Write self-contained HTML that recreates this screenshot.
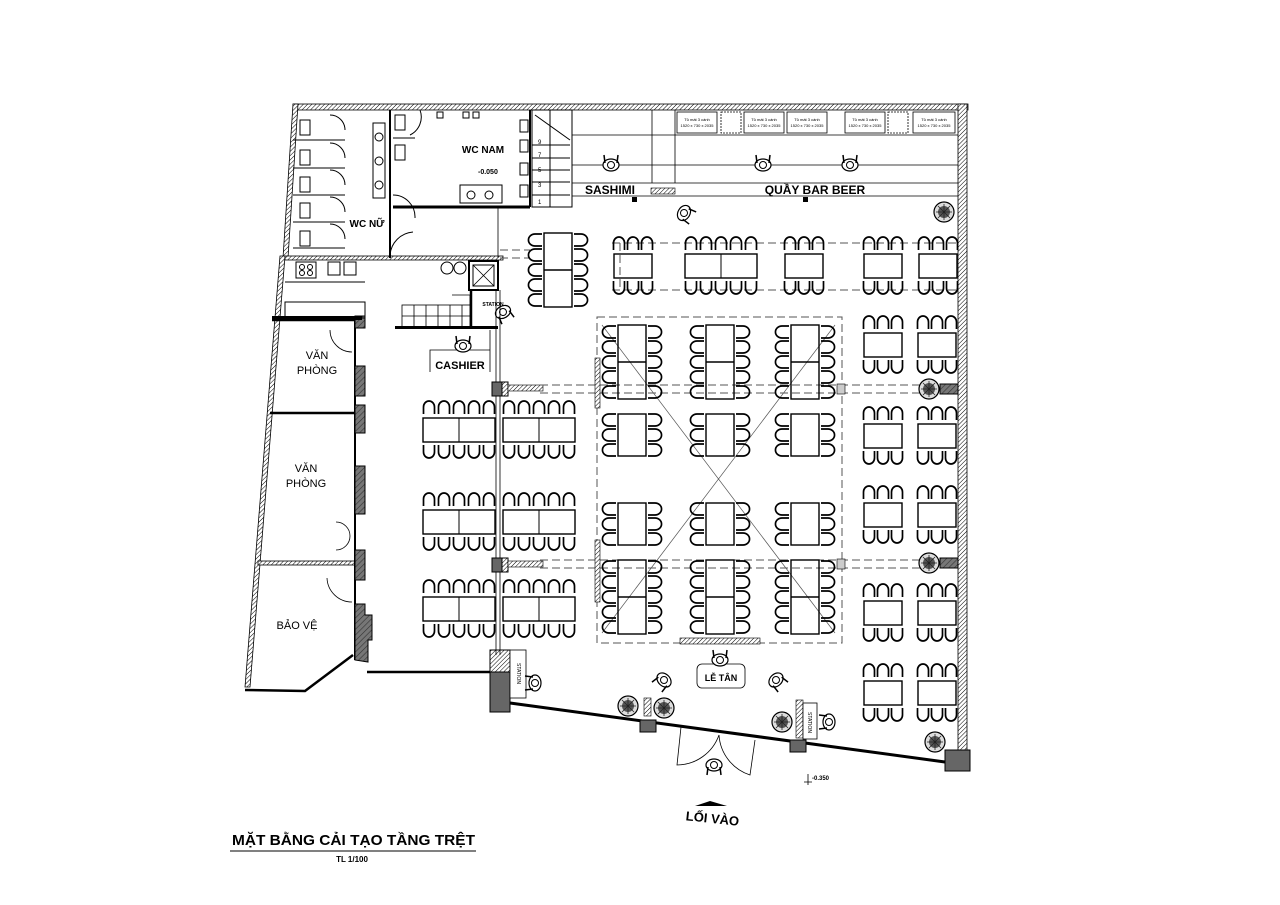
<!DOCTYPE html>
<html><head><meta charset="utf-8"><style>
html,body{margin:0;padding:0;background:#fff;}
svg{display:block;font-family:"Liberation Sans",Arial,sans-serif;}
</style></head><body>
<svg width="1280" height="905" viewBox="0 0 1280 905" xmlns="http://www.w3.org/2000/svg">
<defs>
<pattern id="hat" width="3" height="3" patternUnits="userSpaceOnUse" patternTransform="rotate(45)"><rect width="3" height="3" fill="#fff"/><line x1="0" y1="0" x2="0" y2="3" stroke="#000" stroke-width="1"/></pattern>
<pattern id="dh" width="4" height="4" patternUnits="userSpaceOnUse" patternTransform="rotate(45)"><rect width="4" height="4" fill="#777"/><line x1="0" y1="0" x2="0" y2="4" stroke="#333" stroke-width="1.2"/></pattern>
<g id="cu"><path d="M1.5,14 V7 A5.5,6 0 0 1 12.5,7 V14" fill="none" stroke="#000" stroke-width="1.7"/></g>
<g id="cd"><path d="M1.5,0 V7 A5.5,6 0 0 0 12.5,7 V0" fill="none" stroke="#000" stroke-width="1.7"/></g>
<g id="cl"><path d="M14,1 H7 A6,5.5 0 0 0 7,13 H14" fill="none" stroke="#000" stroke-width="1.7"/></g>
<g id="cr"><path d="M0,1 H7 A6,5.5 0 0 1 7,13 H0" fill="none" stroke="#000" stroke-width="1.7"/></g>
<g id="h3"><use href="#cu" x="0"/><use href="#cu" x="14"/><use href="#cu" x="28"/><rect x="2" y="18" width="38" height="24" fill="none" stroke="#000" stroke-width="1.4"/><use href="#cd" x="0" y="45"/><use href="#cd" x="14" y="45"/><use href="#cd" x="28" y="45"/></g>
<g id="h5"><use href="#cu" x="0"/><use href="#cu" x="15"/><use href="#cu" x="30"/><use href="#cu" x="45"/><use href="#cu" x="60"/><rect x="1" y="18" width="72" height="24" fill="none" stroke="#000" stroke-width="1.4"/><line x1="37" y1="18" x2="37" y2="42" stroke="#000"/><use href="#cd" x="0" y="45"/><use href="#cd" x="15" y="45"/><use href="#cd" x="30" y="45"/><use href="#cd" x="45" y="45"/><use href="#cd" x="60" y="45"/></g>
<g id="v5"><use href="#cl" y="0"/><use href="#cl" y="15"/><use href="#cl" y="30"/><use href="#cl" y="45"/><use href="#cl" y="60"/><rect x="16" y="0" width="28" height="74" fill="none" stroke="#000" stroke-width="1.4"/><line x1="16" y1="37" x2="44" y2="37" stroke="#000" stroke-width="1.4"/><use href="#cr" x="46" y="0"/><use href="#cr" x="46" y="15"/><use href="#cr" x="46" y="30"/><use href="#cr" x="46" y="45"/><use href="#cr" x="46" y="60"/></g>
<g id="v3"><use href="#cl" y="0"/><use href="#cl" y="15"/><use href="#cl" y="30"/><rect x="16" y="1" width="28" height="42" fill="none" stroke="#000" stroke-width="1.4"/><use href="#cr" x="46" y="0"/><use href="#cr" x="46" y="15"/><use href="#cr" x="46" y="30"/></g>
<g id="tree"><circle r="10" fill="#ddd" stroke="#000" stroke-width="1.2"/><circle r="6" fill="#555"/><path d="M-8,0H8M0,-8V8M-6,-6L6,6M-6,6L6,-6" stroke="#222" stroke-width=".8"/></g>
<g id="ppl"><ellipse cx="0" cy="0" rx="8" ry="6" fill="#fff" stroke="#000" stroke-width="1.2"/><circle cx="0" cy="0" r="3.5" fill="#fff" stroke="#000"/><path d="M-6,2 L-7,10 M6,2 L7,10" stroke="#000" stroke-width="1.5"/></g>
</defs>

<!-- outer walls -->
<rect x="293" y="104" width="675" height="6" fill="url(#hat)" stroke="#000" stroke-width=".8"/>
<rect x="958" y="104" width="9" height="650" fill="url(#hat)" stroke="#000" stroke-width=".8"/>
<rect x="945" y="750" width="25" height="21" fill="#666" stroke="#000"/>
<polygon points="293,104 298,104 288,258 283,258" fill="url(#hat)" stroke="#000" stroke-width=".8"/>
<polygon points="280,256 285,256 250,687 245,687" fill="url(#hat)" stroke="#000" stroke-width=".8"/>
<polyline points="245,690 305,691 353,655" fill="none" stroke="#000" stroke-width="2.5"/>
<line x1="367" y1="672" x2="492" y2="672" stroke="#000" stroke-width="2.5"/>
<!-- front facade -->
<line x1="510" y1="703" x2="945" y2="762" stroke="#000" stroke-width="3"/>
<rect x="490" y="650" width="20" height="62" fill="#666" stroke="#000"/>
<rect x="490" y="650" width="20" height="22" fill="url(#hat)" stroke="#000"/>
<rect x="640" y="720" width="16" height="12" fill="#666" stroke="#000"/>
<rect x="790" y="740" width="16" height="12" fill="#666" stroke="#000"/>

<!-- left rooms -->
<line x1="272" y1="320" x2="358" y2="320" stroke="#000" stroke-width="2.5"/>
<line x1="270" y1="413" x2="355" y2="413" stroke="#000" stroke-width="2.5"/>
<rect x="258" y="561" width="102" height="4" fill="url(#hat)" stroke="#000" stroke-width=".8"/>
<line x1="355" y1="320" x2="355" y2="660" stroke="#000" stroke-width="2"/>
<rect x="355" y="316" width="10" height="12" fill="url(#dh)" stroke="#000"/>
<rect x="355" y="366" width="10" height="30" fill="url(#dh)" stroke="#000"/>
<rect x="355" y="405" width="10" height="28" fill="url(#dh)" stroke="#000"/>
<rect x="355" y="466" width="10" height="48" fill="url(#dh)" stroke="#000"/>
<rect x="355" y="550" width="10" height="30" fill="url(#dh)" stroke="#000"/>
<polygon points="355,604 365,604 365,615 372,615 372,640 368,640 368,662 355,660" fill="url(#dh)" stroke="#000"/>
<path d="M330,330 A22,22 0 0 0 352,352 M336,522 A14,14 0 0 1 350,536 M336,550 A14,14 0 0 0 350,536 M327,578 A25,25 0 0 0 352,602" fill="none" stroke="#000" stroke-width=".8"/>
<text x="317" y="359" font-size="11" text-anchor="middle">VĂN</text>
<text x="317" y="374" font-size="11" text-anchor="middle">PHÒNG</text>
<text x="306" y="472" font-size="11" text-anchor="middle">VĂN</text>
<text x="306" y="487" font-size="11" text-anchor="middle">PHÒNG</text>
<text x="297" y="629" font-size="11" text-anchor="middle">BẢO VỆ</text>

<!-- kitchen -->
<rect x="285" y="256" width="218" height="4" fill="url(#hat)" stroke="#000" stroke-width=".8"/>
<line x1="285" y1="282" x2="365" y2="282" stroke="#000"/>
<rect x="296" y="262" width="20" height="16" fill="none" stroke="#000"/>
<circle cx="302" cy="267" r="2.5" fill="none" stroke="#000"/><circle cx="310" cy="267" r="2.5" fill="none" stroke="#000"/><circle cx="302" cy="273" r="2.5" fill="none" stroke="#000"/><circle cx="310" cy="273" r="2.5" fill="none" stroke="#000"/>
<rect x="328" y="262" width="12" height="13" fill="none" stroke="#000"/><rect x="344" y="262" width="12" height="13" fill="none" stroke="#000"/>
<rect x="285" y="302" width="80" height="16" fill="none" stroke="#000"/>
<rect x="272" y="316" width="90" height="4" fill="#000"/>
<circle cx="447" cy="268" r="6" fill="none" stroke="#000"/><circle cx="460" cy="268" r="6" fill="none" stroke="#000"/>
<rect x="469" y="261" width="29" height="29" fill="none" stroke="#000" stroke-width="2"/>
<path d="M473,265 L494,286 M494,265 L473,286" stroke="#000" stroke-width=".8"/><rect x="473" y="265" width="21" height="21" fill="none" stroke="#000"/>
<g stroke="#000" fill="none" stroke-width=".8"><rect x="402" y="305" width="68" height="22"/><path d="M414,305V327M426,305V327M438,305V327M450,305V327M462,305V327M402,316H470M452,295H470V305"/></g>
<rect x="395" y="326" width="103" height="3" fill="#000"/>
<line x1="471" y1="290" x2="471" y2="327" stroke="#000" stroke-width="2.5"/>
<text x="493" y="306" font-size="5" font-weight="bold" text-anchor="middle">STATION</text>
<use href="#ppl" transform="translate(503,312) rotate(-30)"/>
<polyline points="430,372 430,350 490,350" fill="none" stroke="#000" stroke-width=".8"/>
<line x1="490" y1="330" x2="490" y2="372" stroke="#000" stroke-width=".8"/>
<use href="#ppl" transform="translate(463,346) rotate(180)"/>
<text x="460" y="369" font-size="11" font-weight="bold" text-anchor="middle">CASHIER</text>

<!-- column line left -->
<line x1="496" y1="290" x2="496" y2="655" stroke="#000" stroke-width=".8"/>
<line x1="500" y1="290" x2="500" y2="655" stroke="#000" stroke-width=".8"/>
<rect x="492" y="382" width="10" height="14" fill="#666" stroke="#000"/>
<rect x="502" y="382" width="6" height="14" fill="url(#hat)" stroke="#000"/>
<rect x="492" y="558" width="10" height="14" fill="#666" stroke="#000"/>
<rect x="502" y="558" width="6" height="14" fill="url(#hat)" stroke="#000"/>
<rect x="508" y="385" width="35" height="6" fill="url(#hat)" stroke="#000" stroke-width=".6"/>
<rect x="508" y="561" width="35" height="6" fill="url(#hat)" stroke="#000" stroke-width=".6"/>
<rect x="510" y="650" width="16" height="48" fill="#fff" stroke="#000" stroke-width=".8"/>
<text transform="translate(517,663) rotate(90)" font-size="5">STATION</text>
<use href="#ppl" transform="translate(535,683) rotate(90)"/>

<!-- WC area -->
<line x1="390" y1="110" x2="390" y2="258" stroke="#000" stroke-width="2"/>
<line x1="393" y1="207" x2="530" y2="207" stroke="#000" stroke-width="3"/>
<line x1="530" y1="110" x2="530" y2="207" stroke="#000" stroke-width="2"/>
<g fill="none" stroke="#000" stroke-width="1">
<path d="M300,120 h10 v15 h-10 z M300,150 h10 v15 h-10 z M300,177 h10 v15 h-10 z M300,203 h10 v15 h-10 z M300,231 h10 v15 h-10 z"/>
<path d="M293,140 H345 M293,168 H345 M293,195 H345 M293,222 H345 M293,248 H345"/>
<path d="M330,115 A15,15 0 0 1 345,130 M330,143 A15,15 0 0 1 345,158 M330,170 A15,15 0 0 1 345,185 M330,197 A15,15 0 0 1 345,212 M330,224 A15,15 0 0 1 345,239"/>
<rect x="373" y="123" width="12" height="75"/>
<circle cx="379" cy="137" r="4"/><circle cx="379" cy="161" r="4"/><circle cx="379" cy="185" r="4"/>
<path d="M393,195 A22,22 0 0 1 415,218 M390,255 A25,25 0 0 1 413,232"/>
<path d="M395,115 h10 v15 h-10 z M395,145 h10 v15 h-10 z M393,138 H415 M420,110 A20,20 0 0 1 410,135"/>
<rect x="460" y="185" width="42" height="18"/><circle cx="471" cy="195" r="4"/><circle cx="489" cy="195" r="4"/>
<path d="M520,120 h8 v12 h-8z M520,140 h8 v12 h-8z M520,163 h8 v12 h-8z M520,185 h8 v12 h-8z"/>
<rect x="437" y="112" width="6" height="6"/><rect x="463" y="112" width="6" height="6"/><rect x="473" y="112" width="6" height="6"/>
</g>
<text x="367" y="227" font-size="10" font-weight="bold" text-anchor="middle">WC NỮ</text>
<text x="483" y="153" font-size="10" font-weight="bold" text-anchor="middle">WC NAM</text>
<text x="478" y="174" font-size="7" font-weight="bold">-0.050</text>
<line x1="498" y1="207" x2="498" y2="258" stroke="#000" stroke-width=".8"/>

<!-- stairs -->
<g stroke="#000" fill="none" stroke-width="1">
<rect x="532" y="110" width="40" height="97"/>
<path d="M532,145 H570 M532,158 H570 M532,170 H570 M532,182 H570 M532,195 H570 M550,110 V207 M535,115 L570,140"/>
<path d="M572,110 V207"/>
</g>
<text x="538" y="144" font-size="6">9</text><text x="538" y="157" font-size="6">7</text><text x="538" y="172" font-size="6">5</text><text x="538" y="187" font-size="6">3</text><text x="538" y="204" font-size="6">1</text>

<!-- bar -->
<g stroke="#000" stroke-width=".8" fill="none">
<path d="M572,135 H958 M572,165 H958 M572,183 H958 M572,196 H958 M652,110 V183 M675,110 V183"/>
</g>
<g font-size="4" text-anchor="middle" fill="#000">
<rect x="677" y="112" width="40" height="21" fill="none" stroke="#000" stroke-width=".8"/><text x="697" y="121">Tủ mát 3 cánh</text><text x="697" y="127">1520 x 730 x 2035</text>
<rect x="721" y="112" width="20" height="21" fill="none" stroke="#000" stroke-dasharray="2,1" stroke-width=".8"/>
<rect x="744" y="112" width="40" height="21" fill="none" stroke="#000" stroke-width=".8"/><text x="764" y="121">Tủ mát 3 cánh</text><text x="764" y="127">1520 x 730 x 2035</text>
<rect x="787" y="112" width="40" height="21" fill="none" stroke="#000" stroke-width=".8"/><text x="807" y="121">Tủ mát 3 cánh</text><text x="807" y="127">1520 x 730 x 2035</text>
<rect x="845" y="112" width="40" height="21" fill="none" stroke="#000" stroke-width=".8"/><text x="865" y="121">Tủ mát 3 cánh</text><text x="865" y="127">1520 x 730 x 2035</text>
<rect x="888" y="112" width="20" height="21" fill="none" stroke="#000" stroke-dasharray="2,1" stroke-width=".8"/>
<rect x="913" y="112" width="42" height="21" fill="none" stroke="#000" stroke-width=".8"/><text x="934" y="121">Tủ mát 3 cánh</text><text x="934" y="127">1520 x 730 x 2035</text>
</g>
<text x="610" y="194" font-size="12" font-weight="bold" text-anchor="middle">SASHIMI</text>
<text x="815" y="194" font-size="12" font-weight="bold" text-anchor="middle">QUẦY BAR BEER</text>
<rect x="651" y="188" width="24" height="6" fill="url(#hat)" stroke="#000" stroke-width=".6"/>
<rect x="632" y="197" width="5" height="5" fill="#000"/><rect x="803" y="197" width="5" height="5" fill="#000"/>
<use href="#ppl" transform="translate(611,165) rotate(180)"/>
<use href="#ppl" transform="translate(763,165) rotate(180)"/>
<use href="#ppl" transform="translate(850,165) rotate(180)"/>
<use href="#ppl" transform="translate(684,213) rotate(-60)"/>
<use href="#tree" transform="translate(944,212)"/>

<!-- dashed beams -->
<g stroke="#555" stroke-width="1" stroke-dasharray="8,4" fill="none">
<path d="M612,243 H958 M612,290 H958 M620,243 V290 M500,250 H530 M500,258 H530"/>
<path d="M540,385 H925 M540,393 H925 M540,560 H925 M540,568 H925"/>
<rect x="597" y="317" width="245" height="326"/>
</g>
<g stroke="#555" stroke-width=".7"><line x1="602" y1="325" x2="835" y2="633"/><line x1="835" y1="325" x2="602" y2="633"/></g>
<rect x="595" y="358" width="5" height="50" fill="url(#hat)" stroke="#000" stroke-width=".6"/>
<rect x="595" y="540" width="5" height="62" fill="url(#hat)" stroke="#000" stroke-width=".6"/>
<rect x="680" y="638" width="80" height="6" fill="url(#hat)" stroke="#000" stroke-width=".6"/>
<rect x="837" y="384" width="8" height="10" fill="#ccc" stroke="#000" stroke-width=".6"/>
<rect x="837" y="559" width="8" height="10" fill="#ccc" stroke="#000" stroke-width=".6"/>
<use href="#tree" transform="translate(929,389)"/><rect x="940" y="384" width="18" height="10" fill="url(#dh)" stroke="#000"/>
<use href="#tree" transform="translate(929,563)"/><rect x="940" y="558" width="18" height="10" fill="url(#dh)" stroke="#000"/>

<!-- tables -->
<use href="#v5" x="528" y="233"/>
<use href="#h3" x="612" y="236"/>
<use href="#h5" x="684" y="236"/>
<use href="#h3" x="783" y="236"/>
<use href="#h3" x="862" y="236"/>
<use href="#h3" x="917" y="236"/>

<use href="#v5" x="602" y="325"/><use href="#v5" x="690" y="325"/><use href="#v5" x="775" y="325"/>
<use href="#v3" x="602" y="413"/><use href="#v3" x="690" y="413"/><use href="#v3" x="775" y="413"/>
<use href="#v3" x="602" y="502"/><use href="#v3" x="690" y="502"/><use href="#v3" x="775" y="502"/>
<use href="#v5" x="602" y="560"/><use href="#v5" x="690" y="560"/><use href="#v5" x="775" y="560"/>

<use href="#h3" x="862" y="315"/><use href="#h3" x="916" y="315"/>
<use href="#h3" x="862" y="406"/><use href="#h3" x="916" y="406"/>
<use href="#h3" x="862" y="485"/><use href="#h3" x="916" y="485"/>
<use href="#h3" x="862" y="583"/><use href="#h3" x="916" y="583"/>
<use href="#h3" x="862" y="663"/><use href="#h3" x="916" y="663"/>

<use href="#h5" x="422" y="400"/><use href="#h5" x="502" y="400"/>
<use href="#h5" x="422" y="492"/><use href="#h5" x="502" y="492"/>
<use href="#h5" x="422" y="579"/><use href="#h5" x="502" y="579"/>

<!-- entrance -->
<rect x="697" y="664" width="48" height="24" rx="5" fill="#fff" stroke="#000" stroke-width=".8"/>
<text x="721" y="681" font-size="9" font-weight="bold" text-anchor="middle">LỄ TÂN</text>
<use href="#ppl" transform="translate(720,660) rotate(180)"/>
<use href="#ppl" transform="translate(664,680) rotate(45)"/>
<use href="#ppl" transform="translate(776,680) rotate(-45)"/>
<use href="#tree" transform="translate(628,706)"/>
<use href="#tree" transform="translate(664,708)"/>
<rect x="644" y="698" width="7" height="18" fill="url(#hat)" stroke="#000" stroke-width=".6"/>
<use href="#tree" transform="translate(782,722)"/>
<rect x="796" y="700" width="7" height="38" fill="url(#hat)" stroke="#000" stroke-width=".6"/>
<rect x="803" y="703" width="14" height="36" fill="#fff" stroke="#000" stroke-width=".8"/>
<text transform="translate(808,712) rotate(90)" font-size="5">STATION</text>
<use href="#ppl" transform="translate(829,722) rotate(90)"/>
<use href="#tree" transform="translate(935,742)"/>
<g fill="none" stroke="#000" stroke-width=".8">
<path d="M681,727 L677,765 A45,45 0 0 0 719,735 M755,740 L750,775 A45,45 0 0 1 719,735"/>
</g>
<use href="#ppl" transform="translate(714,765)"/>
<text x="812" y="780" font-size="6" font-weight="bold">-0.350</text>
<path d="M808,774 V785 M804,782 H812" stroke="#000" stroke-width=".8"/>
<polygon points="695,806 710,801 727,806" fill="#000"/>
<text transform="translate(712,823) rotate(6)" font-size="13" font-weight="bold" text-anchor="middle">LỐI VÀO</text>

<!-- title -->
<text x="232" y="845" font-size="15" font-weight="bold" textLength="243" lengthAdjust="spacingAndGlyphs">MẶT BẰNG CẢI TẠO TẦNG TRỆT</text>
<line x1="230" y1="851" x2="476" y2="851" stroke="#000" stroke-width="1"/>
<text x="352" y="862" font-size="8" font-weight="bold" text-anchor="middle">TL 1/100</text>
</svg>
</body></html>
